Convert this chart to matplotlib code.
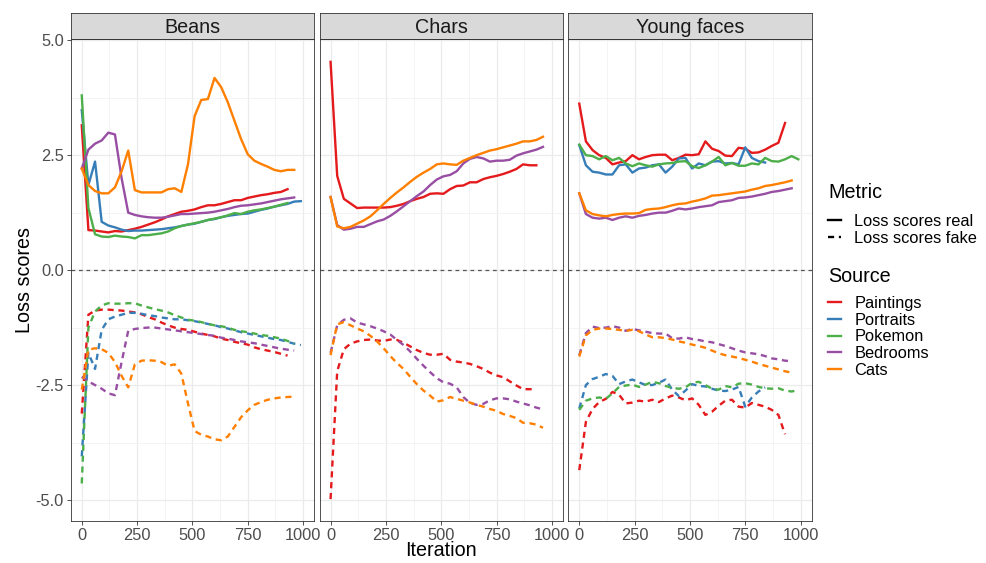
import numpy as np
import matplotlib.pyplot as plt
from matplotlib.lines import Line2D

plt.rcParams['font.family'] = ['Liberation Sans', 'DejaVu Sans']

# logged iterations (every 30 steps); each series is as long as its run
iteration = [0, 30, 60, 90, 120, 150, 180, 210, 240, 270, 300, 330, 360, 390, 420, 450, 480,
             510, 540, 570, 600, 630, 660, 690, 720, 750, 780, 810, 840, 870, 900, 930, 960, 990]

panels = ["Beans", "Chars", "Young faces"]
sources = ["Paintings", "Portraits", "Pokemon", "Bedrooms", "Cats"]
metrics = ["Loss scores real", "Loss scores fake"]
source_colors = ["#E41A1C", "#377EB8", "#4DAF4A", "#984EA3", "#FF7F00"]

# ---- Beans ----
beans_paintings_real = [3.15, 0.87, 0.86, 0.84, 0.82, 0.85, 0.84, 0.87, 0.90, 0.94, 0.99, 1.04, 1.10, 1.17, 1.22, 1.27,
                        1.29, 1.32, 1.37, 1.41, 1.41, 1.44, 1.48, 1.52, 1.52, 1.57, 1.60, 1.63, 1.65, 1.68, 1.70, 1.76]
beans_portraits_real = [3.48, 1.85, 2.36, 1.05, 0.97, 0.93, 0.88, 0.85, 0.86, 0.86, 0.87, 0.88, 0.89, 0.91, 0.93, 0.96,
                        0.99, 1.01, 1.05, 1.09, 1.11, 1.15, 1.18, 1.20, 1.22, 1.23, 1.27, 1.31, 1.34, 1.38, 1.41, 1.44, 1.49, 1.50]
beans_pokemon_real = [3.80, 1.35, 0.78, 0.73, 0.72, 0.75, 0.73, 0.72, 0.69, 0.76, 0.76, 0.78, 0.80, 0.84, 0.91, 0.96,
                      0.99, 1.02, 1.05, 1.09, 1.12, 1.15, 1.19, 1.24, 1.22, 1.27, 1.30, 1.32, 1.35, 1.38, 1.42, 1.46]
beans_bedrooms_real = [2.21, 2.62, 2.75, 2.82, 2.99, 2.95, 2.00, 1.25, 1.20, 1.17, 1.15, 1.14, 1.14, 1.16, 1.19, 1.22,
                       1.22, 1.23, 1.24, 1.25, 1.27, 1.30, 1.33, 1.37, 1.40, 1.41, 1.43, 1.45, 1.48, 1.51, 1.54, 1.56, 1.58]
beans_cats_real = [2.21, 1.85, 1.72, 1.67, 1.67, 1.80, 2.15, 2.60, 1.74, 1.69, 1.69, 1.69, 1.69, 1.76, 1.78, 1.70,
                   2.30, 3.35, 3.70, 3.72, 4.18, 3.98, 3.65, 3.25, 2.85, 2.52, 2.38, 2.31, 2.25, 2.18, 2.15, 2.18, 2.18]
beans_paintings_fake = [-3.12, -0.97, -0.88, -0.86, -0.86, -0.87, -0.88, -0.90, -0.92, -0.96, -1.02, -1.07, -1.14, -1.20,
                        -1.25, -1.28, -1.30, -1.34, -1.38, -1.41, -1.44, -1.49, -1.52, -1.56, -1.59, -1.62, -1.68, -1.72,
                        -1.75, -1.78, -1.82, -1.86]
beans_portraits_fake = [-4.05, -1.80, -2.15, -1.30, -1.07, -1.01, -0.97, -0.93, -0.93, -0.95, -0.98, -1.00, -1.03, -1.05,
                        -1.07, -1.07, -1.09, -1.11, -1.14, -1.17, -1.20, -1.24, -1.27, -1.31, -1.35, -1.38, -1.41, -1.44,
                        -1.47, -1.50, -1.52, -1.56, -1.60, -1.63]
beans_pokemon_fake = [-4.64, -1.25, -0.90, -0.77, -0.72, -0.73, -0.73, -0.72, -0.72, -0.77, -0.81, -0.85, -0.88, -0.92,
                      -0.98, -1.03, -1.08, -1.10, -1.13, -1.17, -1.20, -1.22, -1.25, -1.30, -1.33, -1.35, -1.38, -1.41,
                      -1.43, -1.46, -1.49, -1.54, -1.60]
beans_bedrooms_fake = [-2.32, -2.42, -2.50, -2.58, -2.68, -2.72, -2.00, -1.32, -1.28, -1.26, -1.25, -1.25, -1.27, -1.29,
                       -1.31, -1.33, -1.35, -1.37, -1.39, -1.41, -1.43, -1.47, -1.49, -1.52, -1.55, -1.57, -1.59, -1.62,
                       -1.65, -1.68, -1.71, -1.73, -1.75]
beans_cats_fake = [-2.60, -1.73, -1.70, -1.72, -1.80, -2.00, -2.30, -2.55, -2.05, -1.97, -1.96, -1.97, -2.00, -2.08,
                   -2.05, -2.25, -2.90, -3.50, -3.58, -3.62, -3.68, -3.70, -3.62, -3.41, -3.20, -3.05, -2.93, -2.87,
                   -2.82, -2.79, -2.77, -2.76, -2.75]

# ---- Chars ----
chars_paintings_real = [4.53, 2.05, 1.55, 1.45, 1.35, 1.36, 1.36, 1.36, 1.36, 1.37, 1.40, 1.44, 1.50, 1.55, 1.59, 1.66,
                        1.67, 1.66, 1.76, 1.83, 1.84, 1.91, 1.91, 1.98, 2.02, 2.05, 2.09, 2.14, 2.20, 2.30, 2.28, 2.28]
chars_bedrooms_real = [1.59, 0.98, 0.88, 0.90, 0.94, 0.94, 1.00, 1.06, 1.10, 1.18, 1.28, 1.39, 1.50, 1.61, 1.71, 1.85,
                       1.97, 2.04, 2.07, 2.15, 2.32, 2.42, 2.46, 2.43, 2.36, 2.38, 2.38, 2.40, 2.49, 2.54, 2.58, 2.62, 2.68]
chars_cats_real = [1.59, 0.95, 0.91, 0.94, 1.01, 1.08, 1.17, 1.30, 1.44, 1.57, 1.69, 1.80, 1.92, 2.03, 2.12, 2.20,
                   2.30, 2.32, 2.30, 2.29, 2.38, 2.44, 2.50, 2.55, 2.60, 2.63, 2.67, 2.71, 2.75, 2.80, 2.80, 2.83, 2.90]
chars_paintings_fake = [-4.98, -2.20, -1.72, -1.60, -1.55, -1.52, -1.51, -1.53, -1.54, -1.51, -1.52, -1.58, -1.66, -1.74,
                        -1.80, -1.84, -1.84, -1.82, -1.95, -1.99, -2.01, -2.04, -2.09, -2.15, -2.23, -2.29, -2.33, -2.42,
                        -2.51, -2.59, -2.59, -2.59]
chars_bedrooms_fake = [-1.80, -1.20, -1.08, -1.05, -1.14, -1.18, -1.22, -1.27, -1.33, -1.40, -1.52, -1.63, -1.77, -1.93,
                       -2.08, -2.22, -2.35, -2.44, -2.47, -2.55, -2.76, -2.89, -2.93, -2.91, -2.83, -2.79, -2.79, -2.81,
                       -2.86, -2.90, -2.94, -2.99, -3.03]
chars_cats_fake = [-1.85, -1.18, -1.13, -1.20, -1.27, -1.33, -1.43, -1.55, -1.70, -1.87, -2.02, -2.15, -2.32, -2.48,
                   -2.62, -2.73, -2.86, -2.83, -2.76, -2.80, -2.84, -2.88, -2.93, -2.97, -3.02, -3.06, -3.13, -3.17,
                   -3.22, -3.32, -3.33, -3.36, -3.43]

# ---- Young faces ----
young_paintings_real = [3.62, 2.80, 2.61, 2.50, 2.44, 2.30, 2.34, 2.37, 2.50, 2.41, 2.46, 2.50, 2.51, 2.51, 2.39, 2.44,
                        2.51, 2.50, 2.52, 2.80, 2.64, 2.59, 2.49, 2.48, 2.66, 2.64, 2.55, 2.56, 2.62, 2.70, 2.77, 3.20]
young_portraits_real = [2.72, 2.28, 2.14, 2.12, 2.08, 2.08, 2.28, 2.30, 2.12, 2.21, 2.23, 2.28, 2.30, 2.12, 2.25, 2.43,
                        2.44, 2.21, 2.32, 2.28, 2.36, 2.37, 2.32, 2.33, 2.30, 2.67, 2.44, 2.37, 2.34]
young_pokemon_real = [2.73, 2.50, 2.48, 2.41, 2.48, 2.39, 2.44, 2.32, 2.26, 2.32, 2.28, 2.25, 2.30, 2.32, 2.33, 2.36,
                      2.37, 2.26, 2.22, 2.28, 2.36, 2.46, 2.28, 2.33, 2.27, 2.27, 2.32, 2.30, 2.44, 2.37, 2.36, 2.41, 2.48, 2.41]
young_bedrooms_real = [1.67, 1.22, 1.14, 1.12, 1.14, 1.09, 1.14, 1.17, 1.14, 1.18, 1.20, 1.23, 1.25, 1.25, 1.29, 1.34,
                       1.32, 1.34, 1.37, 1.39, 1.41, 1.48, 1.50, 1.52, 1.57, 1.58, 1.60, 1.63, 1.66, 1.70, 1.72, 1.75, 1.78]
young_cats_real = [1.67, 1.30, 1.22, 1.19, 1.17, 1.20, 1.22, 1.23, 1.23, 1.24, 1.31, 1.33, 1.34, 1.37, 1.41, 1.44,
                   1.45, 1.49, 1.52, 1.56, 1.62, 1.63, 1.65, 1.67, 1.69, 1.71, 1.75, 1.78, 1.83, 1.85, 1.88, 1.91, 1.95]
young_paintings_fake = [-4.35, -3.30, -3.02, -2.87, -2.80, -2.65, -2.71, -2.90, -2.88, -2.84, -2.86, -2.82, -2.87, -2.79,
                        -2.73, -2.77, -2.83, -2.79, -2.93, -3.15, -3.08, -2.95, -2.84, -2.82, -2.97, -2.99, -2.89, -2.93,
                        -2.97, -3.04, -3.15, -3.57]
young_portraits_fake = [-3.01, -2.50, -2.37, -2.32, -2.26, -2.30, -2.48, -2.42, -2.38, -2.44, -2.50, -2.50, -2.45, -2.38,
                        -2.60, -2.74, -2.62, -2.48, -2.52, -2.53, -2.58, -2.62, -2.63, -2.60, -2.54, -2.97, -2.77, -2.64,
                        -2.55]
young_pokemon_fake = [-3.04, -2.84, -2.79, -2.77, -2.80, -2.68, -2.54, -2.51, -2.49, -2.54, -2.49, -2.43, -2.46, -2.52,
                      -2.56, -2.58, -2.55, -2.45, -2.43, -2.50, -2.58, -2.60, -2.52, -2.55, -2.47, -2.46, -2.49, -2.54,
                      -2.57, -2.58, -2.57, -2.62, -2.64, -2.61]
young_bedrooms_fake = [-1.85, -1.37, -1.23, -1.26, -1.25, -1.22, -1.25, -1.32, -1.28, -1.31, -1.34, -1.37, -1.38, -1.38,
                       -1.48, -1.49, -1.46, -1.50, -1.52, -1.55, -1.57, -1.61, -1.65, -1.70, -1.75, -1.79, -1.81, -1.83,
                       -1.87, -1.92, -1.94, -1.97, -1.98]
young_cats_fake = [-1.88, -1.42, -1.30, -1.27, -1.27, -1.28, -1.30, -1.32, -1.30, -1.33, -1.40, -1.46, -1.46, -1.48,
                   -1.51, -1.55, -1.58, -1.62, -1.65, -1.69, -1.75, -1.81, -1.85, -1.88, -1.91, -1.95, -1.99, -2.04,
                   -2.08, -2.12, -2.16, -2.20, -2.23]

# (real, fake) per panel and source; missing sources are simply absent
panel_data = {
    "Beans": {"Paintings": (beans_paintings_real, beans_paintings_fake),
              "Portraits": (beans_portraits_real, beans_portraits_fake),
              "Pokemon": (beans_pokemon_real, beans_pokemon_fake),
              "Bedrooms": (beans_bedrooms_real, beans_bedrooms_fake),
              "Cats": (beans_cats_real, beans_cats_fake)},
    "Chars": {"Paintings": (chars_paintings_real, chars_paintings_fake),
              "Bedrooms": (chars_bedrooms_real, chars_bedrooms_fake),
              "Cats": (chars_cats_real, chars_cats_fake)},
    "Young faces": {"Paintings": (young_paintings_real, young_paintings_fake),
                    "Portraits": (young_portraits_real, young_portraits_fake),
                    "Pokemon": (young_pokemon_real, young_pokemon_fake),
                    "Bedrooms": (young_bedrooms_real, young_bedrooms_fake),
                    "Cats": (young_cats_real, young_cats_fake)},
}

W, H = 986, 563
fig = plt.figure(figsize=(W / 100, H / 100), dpi=100, facecolor='white')

panel_left = [70.7, 319.5, 568.2]
panel_w = 243.4
panel_top, panel_bot = 39.3, 520.7
strip_top = 13.3
dash = (0, (2.6, 2.0))
line_w = 1.7
border = '#333333'
tick_fs = 11.8
title_fs = 14.2
label_fs = 11.8

def px(x0, y_top, w, h):
    return [x0 / W, 1 - (y_top + h) / H, w / W, h / H]

for i, name in enumerate(panels):
    ax = fig.add_axes(px(panel_left[i], panel_top, panel_w, panel_bot - panel_top))
    ax.set_xlim(-50, 1050)
    ax.set_ylim(-5.45, 5.02)
    ax.set_xticks([0, 250, 500, 750, 1000])
    ax.set_xticks([125, 375, 625, 875], minor=True)
    ax.set_yticks([-5, -2.5, 0, 2.5, 5])
    ax.set_yticks([-3.75, -1.25, 1.25, 3.75], minor=True)
    ax.grid(which='major', color='#EBEBEB', lw=0.9)
    ax.grid(which='minor', color='#F0F0F0', lw=0.5)
    ax.set_axisbelow(True)
    for sp in ax.spines.values():
        sp.set_color(border)
        sp.set_linewidth(0.6)
    ax.tick_params(which='major', length=3, width=0.6, color=border, labelsize=tick_fs,
                   labelcolor='#4D4D4D', pad=2)
    ax.tick_params(which='minor', length=0)
    if i == 0:
        ax.set_yticklabels(["-5.0", "-2.5", "0.0", "2.5", "5.0"])
    else:
        ax.tick_params(axis='y', left=False, labelleft=False)

    ax.axhline(0, color='#555555', lw=0.9, ls=(0, (3, 3)), zorder=1.5)

    for src, col in zip(sources, source_colors):
        if src not in panel_data[name]:
            continue
        real, fake = panel_data[name][src]
        ax.plot(iteration[:len(real)], real, color=col, lw=line_w, solid_joinstyle='round', zorder=2)
        ax.plot(iteration[:len(fake)], fake, color=col, lw=line_w, ls=dash, zorder=2)

    # facet strip
    sax = fig.add_axes(px(panel_left[i], strip_top, panel_w, panel_top - strip_top))
    sax.set_facecolor('#D9D9D9')
    sax.set_xticks([])
    sax.set_yticks([])
    for sp in sax.spines.values():
        sp.set_color(border)
        sp.set_linewidth(0.6)
    sax.text(0.5, 0.45, name, ha='center', va='center', fontsize=title_fs, color='#1A1A1A',
             transform=sax.transAxes)

fig.text(441 / W, 1 - 551 / H, "Iteration", ha='center', va='center', fontsize=title_fs)
fig.text(25 / W, 1 - 280 / H, "Loss scores", ha='center', va='center', rotation=90, fontsize=title_fs)

# legends: titles as separate text so the gap under them matches
fig.text(828 / W, 1 - 193 / H, "Metric", ha='left', va='center', fontsize=title_fs)
fig.text(828 / W, 1 - 276.5 / H, "Source", ha='left', va='center', fontsize=title_fs)

metric_handles = [Line2D([], [], color='black', lw=line_w, ls='-'),
                  Line2D([], [], color='black', lw=line_w, ls=dash)]
fig.legend(metric_handles, metrics, loc='upper left',
           bbox_to_anchor=(828 / W, 1 - 214 / H), frameon=False, fontsize=label_fs,
           handlelength=0.8, handletextpad=0.8, labelspacing=0.1,
           borderpad=0, borderaxespad=0)

source_handles = [Line2D([], [], color=c, lw=line_w) for c in source_colors]
fig.legend(source_handles, sources, loc='upper left',
           bbox_to_anchor=(828 / W, 1 - 296 / H), frameon=False, fontsize=label_fs,
           handlelength=0.8, handletextpad=0.8, labelspacing=0.1,
           borderpad=0, borderaxespad=0)

fig.savefig("out.png", dpi=100)
